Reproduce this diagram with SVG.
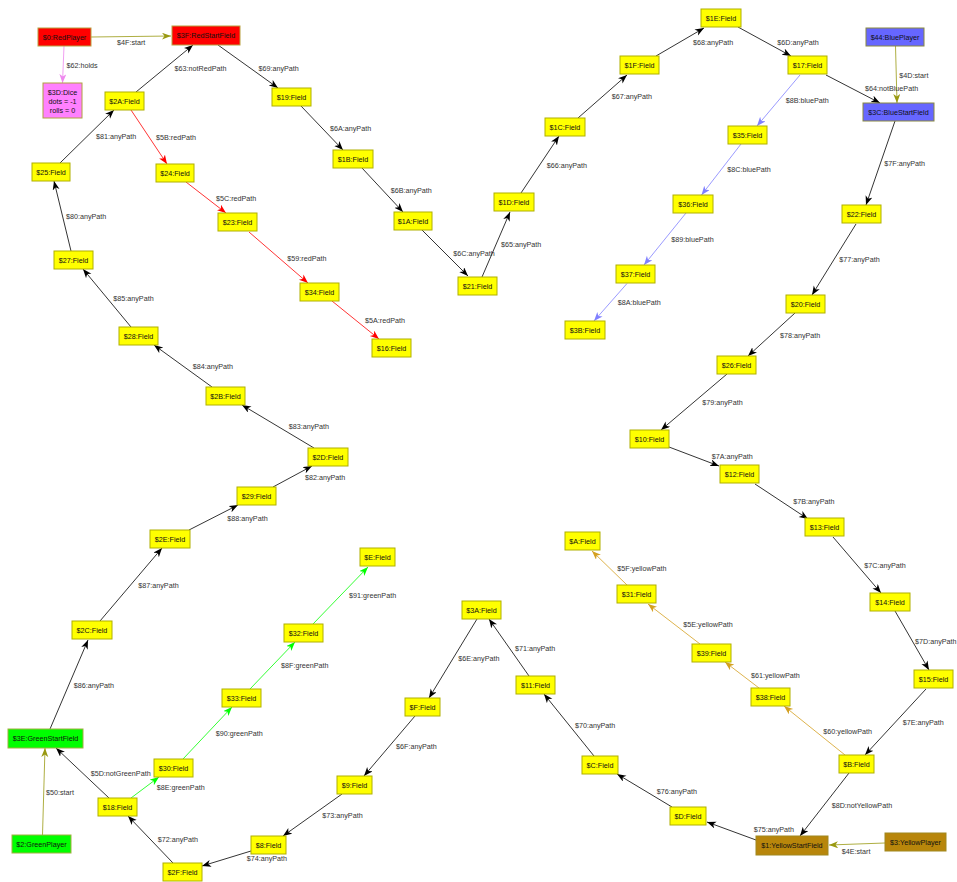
<svg xmlns="http://www.w3.org/2000/svg" width="957" height="882" viewBox="0 0 957 882">
<style>
.n rect{fill:#ffff00;stroke:#b0b000;stroke-width:1}
.n.red rect{fill:#ff0000;stroke:#b8a040}
.n.pink rect{fill:#ff80ff;stroke:#b0a040}
.n.green rect{fill:#00ff00;stroke:#a0b040}
.n.blue rect{fill:#6666ff;stroke:#888840}
.n.brown rect{fill:#b8860b;stroke:#a08820}
.n text{font-family:"Liberation Sans",Arial,sans-serif;font-size:7.2px;text-anchor:middle;fill:#111}
.e line{stroke-width:0.8;fill:none}
.e text{font-family:"Liberation Sans",Arial,sans-serif;font-size:7.2px;fill:#333}
.k{stroke:#000}.r{stroke:#ff0000}.b{stroke:#8080ff}.g{stroke:#00ff00}.y{stroke:#d4a020}.o{stroke:#999911}.v{stroke:#ee88ee}
</style>
<defs>
<marker id="ak" markerUnits="userSpaceOnUse" markerWidth="10" markerHeight="8" refX="9" refY="3.5" orient="auto"><path d="M0,0 L9,3.5 L0,7 L2.5,3.5 Z" fill="#000"/></marker>
<marker id="ar" markerUnits="userSpaceOnUse" markerWidth="10" markerHeight="8" refX="9" refY="3.5" orient="auto"><path d="M0,0 L9,3.5 L0,7 L2.5,3.5 Z" fill="#ff0000"/></marker>
<marker id="ab" markerUnits="userSpaceOnUse" markerWidth="10" markerHeight="8" refX="9" refY="3.5" orient="auto"><path d="M0,0 L9,3.5 L0,7 L2.5,3.5 Z" fill="#8080ff"/></marker>
<marker id="ag" markerUnits="userSpaceOnUse" markerWidth="10" markerHeight="8" refX="9" refY="3.5" orient="auto"><path d="M0,0 L9,3.5 L0,7 L2.5,3.5 Z" fill="#00ff00"/></marker>
<marker id="ay" markerUnits="userSpaceOnUse" markerWidth="10" markerHeight="8" refX="9" refY="3.5" orient="auto"><path d="M0,0 L9,3.5 L0,7 L2.5,3.5 Z" fill="#d4a020"/></marker>
<marker id="ao" markerUnits="userSpaceOnUse" markerWidth="10" markerHeight="8" refX="9" refY="3.5" orient="auto"><path d="M0,0 L9,3.5 L0,7 L2.5,3.5 Z" fill="#999911"/></marker>
<marker id="av" markerUnits="userSpaceOnUse" markerWidth="10" markerHeight="8" refX="9" refY="3.5" orient="auto"><path d="M0,0 L9,3.5 L0,7 L2.5,3.5 Z" fill="#ee88ee"/></marker>
</defs>
<rect width="957" height="882" fill="#fff"/>
<g id="connectors" class="e">
<line class="o" x1="91" y1="37" x2="171" y2="36" marker-end="url(#ao)"/><text x="117" y="44.5">$4F:start</text>
<line class="v" x1="64" y1="46" x2="62.5" y2="83" marker-end="url(#av)"/><text x="66.5" y="67.5">$62:holds</text>
<line class="k" x1="136" y1="92" x2="193" y2="45" marker-end="url(#ak)"/><text x="174.5" y="70.5">$63:notRedPath</text>
<line class="k" x1="218" y1="45" x2="278" y2="88" marker-end="url(#ak)"/><text x="258.5" y="70.5">$69:anyPath</text>
<line class="r" x1="131" y1="110" x2="167" y2="164" marker-end="url(#ar)"/><text x="156" y="140">$5B:redPath</text>
<line class="k" x1="60" y1="163" x2="114" y2="110" marker-end="url(#ak)"/><text x="96" y="138.5">$81:anyPath</text>
<line class="r" x1="186" y1="182" x2="226" y2="213" marker-end="url(#ar)"/><text x="216" y="201">$5C:redPath</text>
<line class="k" x1="71" y1="251" x2="54" y2="181" marker-end="url(#ak)"/><text x="66" y="218.5">$80:anyPath</text>
<line class="k" x1="131" y1="327" x2="83" y2="269" marker-end="url(#ak)"/><text x="113.3" y="301">$85:anyPath</text>
<line class="k" x1="212" y1="387" x2="154" y2="345" marker-end="url(#ak)"/><text x="192.7" y="368.5">$84:anyPath</text>
<line class="k" x1="314" y1="448" x2="242" y2="405" marker-end="url(#ak)"/><text x="288.7" y="429">$83:anyPath</text>
<line class="k" x1="273" y1="487" x2="312" y2="466" marker-end="url(#ak)"/><text x="305" y="480">$82:anyPath</text>
<line class="k" x1="189" y1="530" x2="238" y2="505" marker-end="url(#ak)"/><text x="227.3" y="521">$88:anyPath</text>
<line class="k" x1="100" y1="621" x2="162" y2="548" marker-end="url(#ak)"/><text x="138.3" y="588">$87:anyPath</text>
<line class="k" x1="50" y1="729" x2="88" y2="640" marker-end="url(#ak)"/><text x="73.7" y="688">$86:anyPath</text>
<line class="o" x1="42.5" y1="835" x2="45" y2="748" marker-end="url(#ao)"/><text x="46" y="795">$50:start</text>
<line class="k" x1="109" y1="798" x2="56" y2="748" marker-end="url(#ak)"/><text x="90.7" y="776">$5D:notGreenPath</text>
<line class="g" x1="131" y1="798" x2="159" y2="777" marker-end="url(#ag)"/><text x="156.7" y="790">$8E:greenPath</text>
<line class="g" x1="183" y1="759" x2="232" y2="707" marker-end="url(#ag)"/><text x="215.7" y="736">$90:greenPath</text>
<line class="g" x1="250" y1="689" x2="295" y2="642" marker-end="url(#ag)"/><text x="281" y="668">$8F:greenPath</text>
<line class="g" x1="313" y1="624" x2="368" y2="567" marker-end="url(#ag)"/><text x="349" y="598">$91:greenPath</text>
<line class="k" x1="173" y1="863" x2="128" y2="816" marker-end="url(#ak)"/><text x="157.7" y="842">$72:anyPath</text>
<line class="k" x1="251" y1="851" x2="202" y2="866" marker-end="url(#ak)"/><text x="246.7" y="861">$74:anyPath</text>
<line class="k" x1="342" y1="794" x2="283" y2="836" marker-end="url(#ak)"/><text x="322.3" y="818">$73:anyPath</text>
<line class="k" x1="415" y1="716" x2="364" y2="776" marker-end="url(#ak)"/><text x="396" y="749">$6F:anyPath</text>
<line class="k" x1="477" y1="619" x2="429" y2="698" marker-end="url(#ak)"/><text x="458.3" y="661">$6E:anyPath</text>
<line class="k" x1="529" y1="676" x2="489" y2="619" marker-end="url(#ak)"/><text x="515" y="651">$71:anyPath</text>
<line class="k" x1="594" y1="756" x2="544" y2="694" marker-end="url(#ak)"/><text x="575" y="728">$70:anyPath</text>
<line class="k" x1="672" y1="807" x2="617" y2="774" marker-end="url(#ak)"/><text x="656.7" y="794">$76:anyPath</text>
<line class="k" x1="756" y1="840" x2="707" y2="822" marker-end="url(#ak)"/><text x="753.7" y="832">$75:anyPath</text>
<line class="o" x1="885" y1="843" x2="829" y2="845" marker-end="url(#ao)"/><text x="841.7" y="854">$4E:start</text>
<line class="k" x1="849" y1="773" x2="800" y2="836" marker-end="url(#ak)"/><text x="831.7" y="807.5">$8D:notYellowPath</text>
<line class="y" x1="845" y1="755" x2="784" y2="706" marker-end="url(#ay)"/><text x="823.3" y="733.5">$60:yellowPath</text>
<line class="y" x1="759" y1="688" x2="725" y2="662" marker-end="url(#ay)"/><text x="751" y="677.5">$61:yellowPath</text>
<line class="y" x1="700" y1="644" x2="648" y2="604" marker-end="url(#ay)"/><text x="683.3" y="627">$5E:yellowPath</text>
<line class="y" x1="627" y1="585" x2="592" y2="551" marker-end="url(#ay)"/><text x="617.3" y="571">$5F:yellowPath</text>
<line class="k" x1="926" y1="689" x2="865" y2="755" marker-end="url(#ak)"/><text x="902.7" y="725">$7E:anyPath</text>
<line class="k" x1="895" y1="611" x2="929" y2="670" marker-end="url(#ak)"/><text x="915" y="643.5">$7D:anyPath</text>
<line class="k" x1="833" y1="537" x2="881" y2="593" marker-end="url(#ak)"/><text x="864.3" y="568">$7C:anyPath</text>
<line class="k" x1="755" y1="484" x2="808" y2="519" marker-end="url(#ak)"/><text x="793.3" y="504">$7B:anyPath</text>
<line class="k" x1="669" y1="447" x2="719" y2="466" marker-end="url(#ak)"/><text x="711.7" y="459">$7A:anyPath</text>
<line class="k" x1="727" y1="374" x2="661" y2="430" marker-end="url(#ak)"/><text x="702.3" y="405">$79:anyPath</text>
<line class="k" x1="795" y1="313" x2="748" y2="356" marker-end="url(#ak)"/><text x="780" y="338">$78:anyPath</text>
<line class="k" x1="856" y1="224" x2="812" y2="295" marker-end="url(#ak)"/><text x="839.3" y="262">$77:anyPath</text>
<line class="k" x1="895" y1="121" x2="866" y2="205" marker-end="url(#ak)"/><text x="884.3" y="166">$7F:anyPath</text>
<line class="o" x1="895.5" y1="46" x2="897" y2="103" marker-end="url(#ao)"/><text x="899.3" y="78">$4D:start</text>
<line class="k" x1="826" y1="75" x2="880" y2="103" marker-end="url(#ak)"/><text x="865" y="91">$64:notBluePath</text>
<line class="k" x1="738" y1="27" x2="791" y2="56" marker-end="url(#ak)"/><text x="777.3" y="45">$6D:anyPath</text>
<line class="k" x1="656" y1="56" x2="704" y2="28" marker-end="url(#ak)"/><text x="693" y="45">$68:anyPath</text>
<line class="k" x1="578" y1="118" x2="627" y2="75" marker-end="url(#ak)"/><text x="611.7" y="99">$67:anyPath</text>
<line class="k" x1="521" y1="193" x2="559" y2="136" marker-end="url(#ak)"/><text x="546.7" y="168">$66:anyPath</text>
<line class="k" x1="482" y1="277" x2="510" y2="212" marker-end="url(#ak)"/><text x="501" y="247">$65:anyPath</text>
<line class="k" x1="422" y1="230" x2="468" y2="276" marker-end="url(#ak)"/><text x="453.3" y="256">$6C:anyPath</text>
<line class="k" x1="362" y1="168" x2="403" y2="212" marker-end="url(#ak)"/><text x="390.7" y="193">$6B:anyPath</text>
<line class="k" x1="301" y1="106" x2="343" y2="150" marker-end="url(#ak)"/><text x="330" y="131">$6A:anyPath</text>
<line class="r" x1="249" y1="232" x2="308" y2="283" marker-end="url(#ar)"/><text x="287.3" y="261">$59:redPath</text>
<line class="r" x1="332" y1="301" x2="379" y2="339" marker-end="url(#ar)"/><text x="365" y="323">$5A:redPath</text>
<line class="b" x1="800" y1="75" x2="757" y2="126" marker-end="url(#ab)"/><text x="785.7" y="102.5">$8B:bluePath</text>
<line class="b" x1="741" y1="144" x2="701.5" y2="195" marker-end="url(#ab)"/><text x="727.3" y="172">$8C:bluePath</text>
<line class="b" x1="686" y1="213" x2="644" y2="265" marker-end="url(#ab)"/><text x="671.3" y="242">$89:bluePath</text>
<line class="b" x1="627" y1="283.5" x2="594" y2="321" marker-end="url(#ab)"/><text x="617.7" y="305">$8A:bluePath</text>
</g>
<g id="n0" class="n red"><rect x="38" y="28" width="53" height="18"/><text x="64.5" y="39.6">$0:RedPlayer</text></g>
<g id="n3F" class="n red"><rect x="172" y="26" width="68" height="19"/><text x="206" y="38.1">$3F:RedStartField</text></g>
<g id="n3D" class="n pink"><rect x="43" y="83" width="39" height="35"/><text x="62.5" y="95">$3D:Dice</text><text x="62.5" y="104">dots = -1</text><text x="62.5" y="112.7">rolls = 0</text></g>
<g id="n2A" class="n"><rect x="105" y="92" width="39" height="18"/><text x="124.5" y="103.6">$2A:Field</text></g>
<g id="n19" class="n"><rect x="272" y="88" width="39" height="18"/><text x="291.5" y="99.6">$19:Field</text></g>
<g id="n25" class="n"><rect x="32" y="163" width="38" height="18"/><text x="51" y="174.6">$25:Field</text></g>
<g id="n24" class="n"><rect x="156" y="164" width="38" height="18"/><text x="175" y="175.6">$24:Field</text></g>
<g id="n23" class="n"><rect x="218" y="213" width="39" height="18"/><text x="237.5" y="224.6">$23:Field</text></g>
<g id="n1A" class="n"><rect x="394" y="212" width="38" height="18"/><text x="413" y="223.6">$1A:Field</text></g>
<g id="n27" class="n"><rect x="54" y="251" width="39" height="18"/><text x="73.5" y="262.6">$27:Field</text></g>
<g id="n34" class="n"><rect x="300" y="283" width="39" height="18"/><text x="319.5" y="294.6">$34:Field</text></g>
<g id="n16" class="n"><rect x="372" y="339" width="39" height="18"/><text x="391.5" y="350.6">$16:Field</text></g>
<g id="n28" class="n"><rect x="119" y="327" width="39" height="18"/><text x="138.5" y="338.6">$28:Field</text></g>
<g id="n2B" class="n"><rect x="206" y="387" width="39" height="18"/><text x="225.5" y="398.6">$2B:Field</text></g>
<g id="n2D" class="n"><rect x="308" y="448" width="40" height="18"/><text x="328" y="459.6">$2D:Field</text></g>
<g id="n29" class="n"><rect x="237" y="487" width="39" height="18"/><text x="256.5" y="498.6">$29:Field</text></g>
<g id="n2E" class="n"><rect x="150" y="530" width="40" height="18"/><text x="170" y="541.6">$2E:Field</text></g>
<g id="nE" class="n"><rect x="360" y="548" width="35" height="18"/><text x="377.5" y="559.6">$E:Field</text></g>
<g id="n2C" class="n"><rect x="72" y="621" width="40" height="18"/><text x="92" y="632.6">$2C:Field</text></g>
<g id="n32" class="n"><rect x="284" y="624" width="39" height="18"/><text x="303.5" y="635.6">$32:Field</text></g>
<g id="n33" class="n"><rect x="222" y="689" width="39" height="18"/><text x="241.5" y="700.6">$33:Field</text></g>
<g id="n3E" class="n green"><rect x="8" y="729" width="75" height="19"/><text x="45.5" y="741.1">$3E:GreenStartField</text></g>
<g id="n30" class="n"><rect x="154" y="759" width="39" height="18"/><text x="173.5" y="770.6">$30:Field</text></g>
<g id="n18" class="n"><rect x="98" y="798" width="39" height="18"/><text x="117.5" y="809.6">$18:Field</text></g>
<g id="n9" class="n"><rect x="337" y="776" width="35" height="18"/><text x="354.5" y="787.6">$9:Field</text></g>
<g id="n2" class="n green"><rect x="12" y="835" width="59" height="18"/><text x="41.5" y="846.6">$2:GreenPlayer</text></g>
<g id="n8" class="n"><rect x="251" y="836" width="35" height="18"/><text x="268.5" y="847.6">$8:Field</text></g>
<g id="n2F" class="n"><rect x="163" y="863" width="39" height="18"/><text x="182.5" y="874.6">$2F:Field</text></g>
<g id="nA" class="n"><rect x="565" y="532" width="35" height="18"/><text x="582.5" y="543.6">$A:Field</text></g>
<g id="n31" class="n"><rect x="617" y="585" width="39" height="18"/><text x="636.5" y="596.6">$31:Field</text></g>
<g id="n3A" class="n"><rect x="462" y="601" width="39" height="18"/><text x="481.5" y="612.6">$3A:Field</text></g>
<g id="n11" class="n"><rect x="516" y="676" width="39" height="18"/><text x="535.5" y="687.6">$11:Field</text></g>
<g id="nF" class="n"><rect x="405" y="698" width="35" height="18"/><text x="422.5" y="709.6">$F:Field</text></g>
<g id="nC" class="n"><rect x="582" y="756" width="36" height="18"/><text x="600" y="767.6">$C:Field</text></g>
<g id="nD" class="n"><rect x="670" y="807" width="36" height="18"/><text x="688" y="818.6">$D:Field</text></g>
<g id="n13" class="n"><rect x="805" y="518" width="39" height="18"/><text x="824.5" y="529.6">$13:Field</text></g>
<g id="n14" class="n"><rect x="870" y="593" width="40" height="18"/><text x="890" y="604.6">$14:Field</text></g>
<g id="n39" class="n"><rect x="692" y="644" width="39" height="18"/><text x="711.5" y="655.6">$39:Field</text></g>
<g id="n15" class="n"><rect x="914" y="670" width="39" height="18"/><text x="933.5" y="681.6">$15:Field</text></g>
<g id="n38" class="n"><rect x="751" y="688" width="39" height="18"/><text x="770.5" y="699.6">$38:Field</text></g>
<g id="nB" class="n"><rect x="839" y="755" width="35" height="18"/><text x="856.5" y="766.6">$B:Field</text></g>
<g id="n1" class="n brown"><rect x="756" y="836" width="72" height="19"/><text x="792" y="848.1">$1:YellowStartField</text></g>
<g id="n3" class="n brown"><rect x="885" y="833" width="61" height="18"/><text x="915.5" y="844.6">$3:YellowPlayer</text></g>
<g id="n1B" class="n"><rect x="333" y="150" width="40" height="18"/><text x="353" y="161.6">$1B:Field</text></g>
<g id="n1C" class="n"><rect x="545" y="118" width="40" height="18"/><text x="565" y="129.6">$1C:Field</text></g>
<g id="n1D" class="n"><rect x="494" y="193" width="40" height="18"/><text x="514" y="204.6">$1D:Field</text></g>
<g id="n1E" class="n"><rect x="701" y="9" width="40" height="18"/><text x="721" y="20.6">$1E:Field</text></g>
<g id="n1F" class="n"><rect x="620" y="56" width="39" height="18"/><text x="639.5" y="67.6">$1F:Field</text></g>
<g id="n17" class="n"><rect x="788" y="56" width="39" height="18"/><text x="807.5" y="67.6">$17:Field</text></g>
<g id="n44" class="n blue"><rect x="866" y="28" width="58" height="18"/><text x="895" y="39.6">$44:BluePlayer</text></g>
<g id="n3C" class="n blue"><rect x="863" y="103" width="71" height="18"/><text x="898.5" y="114.6">$3C:BlueStartField</text></g>
<g id="n35" class="n"><rect x="728" y="126" width="39" height="18"/><text x="747.5" y="137.6">$35:Field</text></g>
<g id="n36" class="n"><rect x="673" y="195" width="40" height="18"/><text x="693" y="206.6">$36:Field</text></g>
<g id="n22" class="n"><rect x="842" y="205" width="39" height="18"/><text x="861.5" y="216.6">$22:Field</text></g>
<g id="n21" class="n"><rect x="458" y="277" width="39" height="18"/><text x="477.5" y="288.6">$21:Field</text></g>
<g id="n37" class="n"><rect x="616" y="265" width="39" height="18"/><text x="635.5" y="276.6">$37:Field</text></g>
<g id="n3B" class="n"><rect x="565" y="321" width="40" height="18"/><text x="585" y="332.6">$3B:Field</text></g>
<g id="n20" class="n"><rect x="786" y="295" width="39" height="18"/><text x="805.5" y="306.6">$20:Field</text></g>
<g id="n26" class="n"><rect x="717" y="356" width="39" height="18"/><text x="736.5" y="367.6">$26:Field</text></g>
<g id="n10" class="n"><rect x="630" y="430" width="39" height="18"/><text x="649.5" y="441.6">$10:Field</text></g>
<g id="n12" class="n"><rect x="720" y="465" width="39" height="18"/><text x="739.5" y="476.6">$12:Field</text></g>
</svg>
